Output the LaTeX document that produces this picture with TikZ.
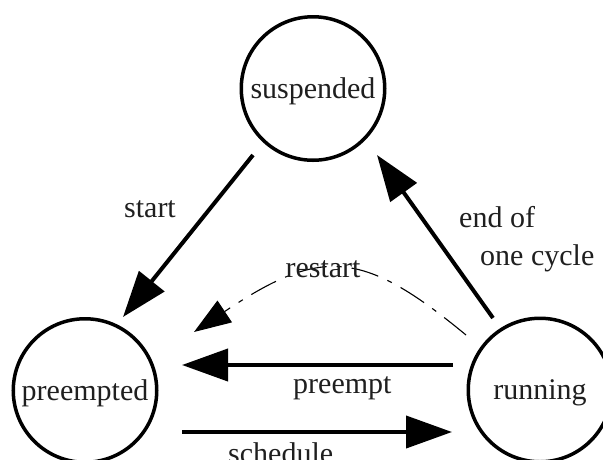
\documentclass[tikz,border=0pt]{standalone}
\usepackage{fontspec}
\setmainfont{Liberation Serif}
\usetikzlibrary{arrows.meta}

\begin{document}
\begin{tikzpicture}[x=1pt,y=-1pt,
  state/.style={circle,draw,line width=3.5pt,minimum size=143.5pt,inner sep=0pt,outer sep=0pt,
    text height=25pt,text depth=6pt,font=\fontsize{30}{36}\selectfont,text=black!88},
  lbl/.style={inner sep=0pt,font=\fontsize{30}{36}\selectfont,text=black!88},
  bigarrow/.style={line width=4pt,-{Triangle[length=46pt,width=32pt]}},
  backarrow/.style={line width=1.1pt,dash pattern=on 28pt off 10pt on 5pt off 10pt,
    -{Triangle[length=37pt,width=26pt]}}]
\useasboundingbox (0,0) rectangle (603,459);

% the three process states
\node[state] (susp) at (313,88.5) {suspended};
\node[state] (pre)  at (85,390.5) {preempted};
\node[state] (run)  at (540,390)  {running};

% transitions
\draw[bigarrow] ([shift={(-60,66.5)}]susp.center) -- ([shift={(38,-73.5)}]pre.center);
\draw[bigarrow] ([shift={(-47,-72)}]run.center) -- ([shift={(64,66.5)}]susp.center);
\draw[bigarrow] ([shift={(-87,-25)}]run.center) -- ([shift={(97,-25.5)}]pre.center);
\draw[bigarrow] ([shift={(97,41.5)}]pre.center) -- ([shift={(-88,42)}]run.center);
\draw[backarrow] ([shift={(-74,-55)}]run.center)
  .. controls (362,249) and (321,247) .. ([shift={(109,-58.5)}]pre.center);

% transition labels
\node[lbl,anchor=base] (lstart) at (150,217) {start};
\node[lbl,anchor=base west] (lend) at (459,227) {end of};
\node[lbl,anchor=base west] (lcycle) at (480,265) {one cycle};
\node[lbl,anchor=base] (lrestart) at (323,277) {restart};
\node[lbl,anchor=base west] (lpreempt) at (293,393) {preempt};
\node[lbl,anchor=base west] (lschedule) at (228,463.5) {schedule};
\end{tikzpicture}
\end{document}
